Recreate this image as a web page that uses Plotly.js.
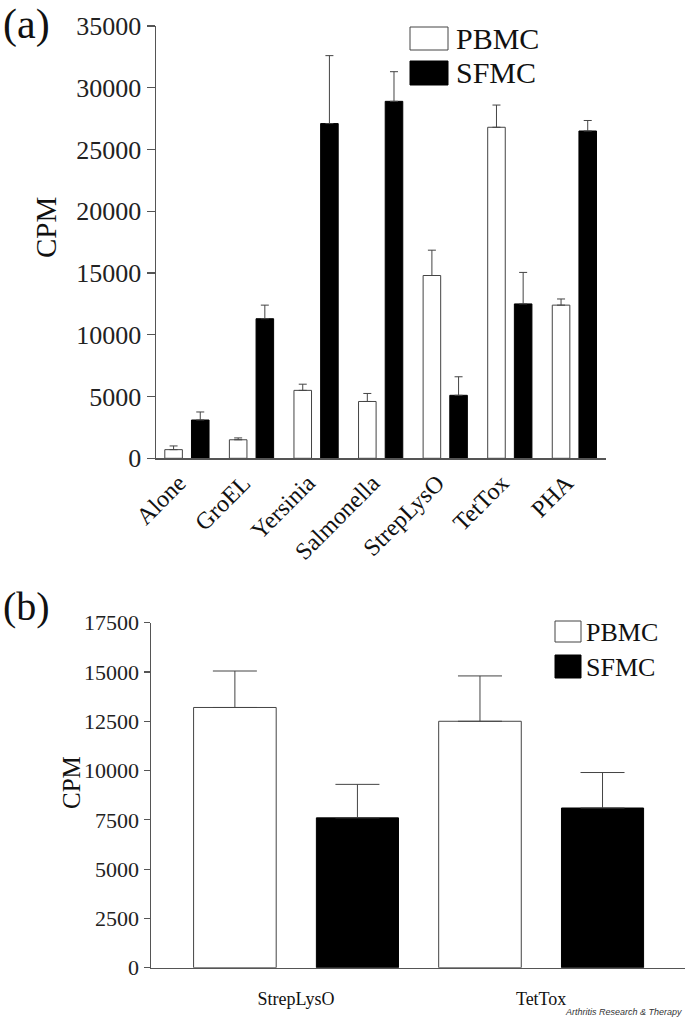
<!DOCTYPE html>
<html>
<head>
<meta charset="utf-8">
<script src="https://cdn.plot.ly/plotly-3.0.1.min.js"></script>
<style>html,body{margin:0;padding:0;background:#fff;}#chart{width:685px;height:1020px;}</style>
</head>
<body>
<div id="chart"></div>
<script>
// Panel (a)
const catsA = ["Alone", "GroEL", "Yersinia", "Salmonella", "StrepLysO", "TetTox", "PHA"];
const pbmcA = [700, 1500, 5500, 4600, 14800, 26800, 12400];
const pbmcErrA = [300, 150, 500, 650, 2050, 1800, 500];
const sfmcA = [3100, 11300, 27100, 28900, 5100, 12500, 26500];
const sfmcErrA = [650, 1100, 5500, 2400, 1500, 2550, 850];

// Panel (b)
const catsB = ["StrepLysO", "TetTox"];
const pbmcB = [13200, 12500];
const pbmcErrB = [1850, 2300];
const sfmcB = [7600, 8100];
const sfmcErrB = [1700, 1800];

const seriesNames = ["PBMC", "SFMC"];
const yTitle = "CPM";

const W = 685, H = 1020;
const px = x => x / W;
const py = y => 1 - y / H;
const serif = "'Liberation Serif', 'Times New Roman', serif";
const axisCol = "#555";

function errY(arr, w) {
  return {type: "data", symmetric: false, array: arr, arrayminus: arr.map(() => 0),
          color: "#444", thickness: 1, width: w, visible: true};
}

const traces = [
  {type: "bar", name: seriesNames[0], x: catsA, y: pbmcA, xaxis: "x", yaxis: "y",
   offset: -0.342, width: 0.272,
   marker: {color: "#fff", line: {color: "#444", width: 1}}, error_y: errY(pbmcErrA, 4), showlegend: false},
  {type: "bar", name: seriesNames[1], x: catsA, y: sfmcA, xaxis: "x", yaxis: "y",
   offset: 0.071, width: 0.272,
   marker: {color: "#000", line: {color: "#000", width: 1}}, error_y: errY(sfmcErrA, 4), showlegend: false},
  {type: "bar", name: seriesNames[0], x: catsB, y: pbmcB, xaxis: "x2", yaxis: "y2",
   offset: -0.418, width: 0.337,
   marker: {color: "#fff", line: {color: "#444", width: 1}}, error_y: errY(pbmcErrB, 22), showlegend: false},
  {type: "bar", name: seriesNames[1], x: catsB, y: sfmcB, xaxis: "x2", yaxis: "y2",
   offset: 0.083, width: 0.335,
   marker: {color: "#000", line: {color: "#000", width: 1}}, error_y: errY(sfmcErrB, 22), showlegend: false}
];

function legendShapes(x0, x1, y1a, y2a, y1b, y2b) {
  return [
    {type: "rect", xref: "paper", yref: "paper", x0: px(x0), x1: px(x1), y0: py(y2a), y1: py(y1a),
     fillcolor: "#fff", line: {color: "#444", width: 1}},
    {type: "rect", xref: "paper", yref: "paper", x0: px(x0), x1: px(x1), y0: py(y2b), y1: py(y1b),
     fillcolor: "#000", line: {color: "#000", width: 1}}
  ];
}

function label(x, y, text, size, extra) {
  return Object.assign({xref: "paper", yref: "paper", x: px(x), y: py(y), xanchor: "left", yanchor: "middle",
    text: text, showarrow: false, font: {family: serif, size: size, color: "#111"}}, extra || {});
}

const layout = {
  width: W, height: H,
  margin: {l: 0, r: 0, t: 0, b: 0},
  paper_bgcolor: "#fff", plot_bgcolor: "#fff",
  barmode: "overlay",
  showlegend: false,
  font: {family: serif, color: "#111"},
  xaxis: {
    domain: [px(155.7), px(606)], anchor: "y",
    type: "category", range: [-0.483, 6.49],
    showline: true, linecolor: axisCol, linewidth: 1.2,
    ticks: "", tickangle: -45, showgrid: false, zeroline: false,
    tickfont: {family: serif, size: 24, color: "#111"},
    ticklabelshift: -8,
    automargin: false
  },
  yaxis: {
    domain: [py(458.3), py(26)], anchor: "x",
    range: [0, 35000], dtick: 5000, tickformat: "d",
    showline: true, linecolor: axisCol, linewidth: 1.2,
    ticks: "outside", ticklen: 8, tickcolor: axisCol, tickwidth: 1.2,
    showgrid: false, zeroline: false,
    tickfont: {family: serif, size: 26, color: "#222"},
    automargin: false
  },
  xaxis2: {
    domain: [px(150.7), 1], anchor: "y2",
    type: "category", range: [-0.593, 1.587],
    showline: true, linecolor: axisCol, linewidth: 1.2,
    ticks: "", showgrid: false, zeroline: false,
    tickfont: {family: serif, size: 18, color: "#111"},
    ticklabelstandoff: 14,
    automargin: false
  },
  yaxis2: {
    domain: [py(967.7), py(622.7)], anchor: "x2",
    range: [0, 17500], dtick: 2500, tickformat: "d",
    showline: true, linecolor: axisCol, linewidth: 1.2,
    ticks: "outside", ticklen: 6, tickcolor: axisCol, tickwidth: 1.2,
    showgrid: false, zeroline: false,
    tickfont: {family: serif, size: 22, color: "#222"},
    automargin: false
  },
  shapes: [
    ...legendShapes(410, 448, 27, 50, 61, 85),
    ...legendShapes(555, 581, 621, 642, 655, 678)
  ],
  annotations: [
    label(1, 24, "(a)", 42),
    label(1, 606, "(b)", 40),
    label(46, 228, yTitle, 29, {xanchor: "center", textangle: -90}),
    label(71, 783, yTitle, 25, {xanchor: "center", textangle: -90}),
    label(454, 39, seriesNames[0], 30),
    label(454, 73, seriesNames[1], 30),
    label(584, 632, seriesNames[0], 26),
    label(584, 667, seriesNames[1], 26),
    {xref: "paper", yref: "paper", x: px(684), y: py(1012), xanchor: "right", yanchor: "middle",
     text: "<i>Arthritis Research &amp; Therapy</i>", showarrow: false,
     font: {family: "'Liberation Sans', Arial, sans-serif", size: 9, color: "#333"}}
  ]
};

Plotly.newPlot("chart", traces, layout, {staticPlot: true, displayModeBar: false});
</script>
</body>
</html>
